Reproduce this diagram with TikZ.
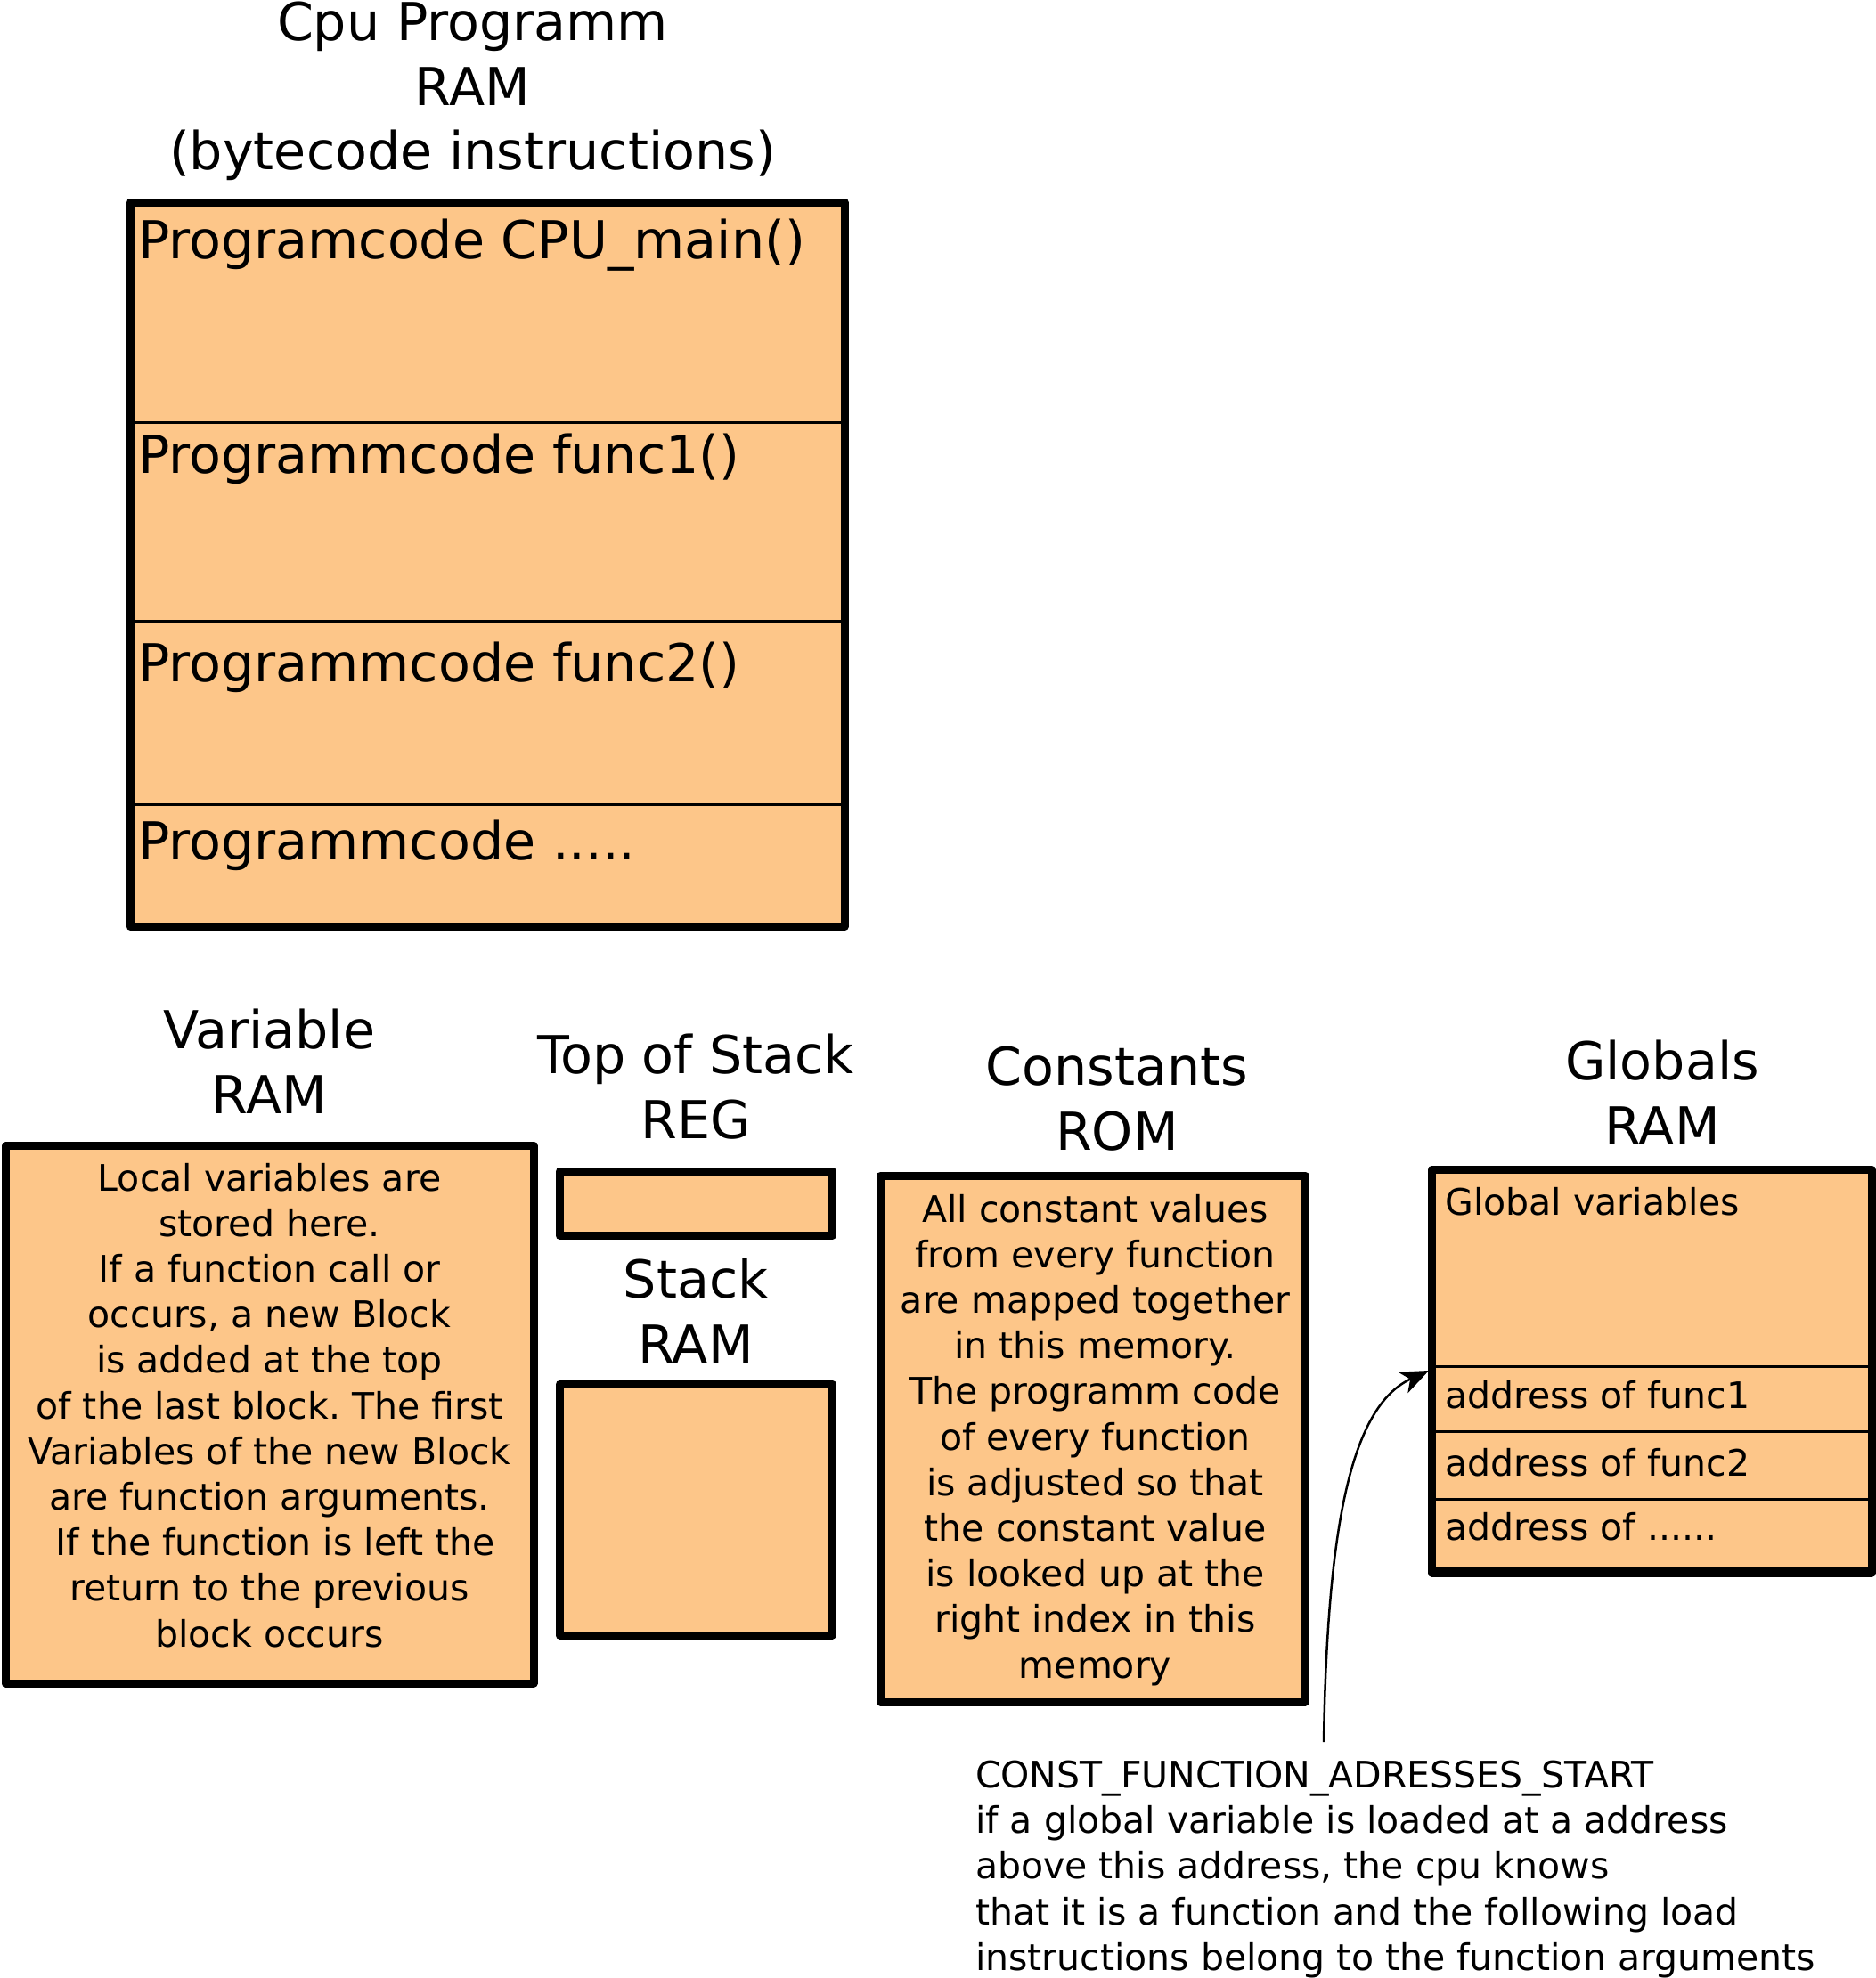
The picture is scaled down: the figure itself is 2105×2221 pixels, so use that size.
\documentclass[tikz,border=0pt]{standalone}
\usepackage{fontspec}
\setmainfont{DejaVu Sans}
\usetikzlibrary{arrows.meta}
\definecolor{boxfill}{HTML}{FDC689}
\frenchspacing
\tikzset{
  membox/.style={draw=black, fill=boxfill, line width=9pt, line join=round},
  divider/.style={draw=black, line width=3pt},
  bigtxt/.style={font=\fontsize{58.7}{72.5}\selectfont, inner sep=0pt, outer sep=0pt},
  smalltxt/.style={font=\fontsize{41}{51.2}\selectfont, inner sep=0pt, outer sep=0pt},
  pointer/.style={draw=black, line width=2.5pt, -{Stealth[length=32pt, width=26pt, inset=9pt]}},
}
\begin{document}
\begin{tikzpicture}[x=1pt,y=-1pt]
\useasboundingbox (0,0) rectangle (2105,2221);

% ---------- Cpu Programm RAM ----------
\node[bigtxt, align=center, anchor=north] (title) at (530.5,2) {Cpu Programm\\RAM\\(bytecode instructions)};
\path[membox] (146,227) rectangle (948,1040.5);
\draw[divider] (146,474) -- (948,474);
\draw[divider] (146,697.5) -- (948,697.5);
\draw[divider] (146,903) -- (948,903);
\node[bigtxt, anchor=base west] (pmain) at (155,290) {Programcode CPU\_main()};
\node[bigtxt, anchor=base west] (pf1) at (155,531) {Programmcode func1()};
\node[bigtxt, anchor=base west] (pf2) at (155,765) {Programmcode func2()};
\node[bigtxt, anchor=base west] (pdots) at (155,965) {Programmcode .....};

% ---------- Variable RAM ----------
\node[bigtxt, align=center, anchor=north] (varlbl) at (302.5,1133) {Variable\\RAM};
\path[membox] (6,1286) rectangle (599,1890);
\node[smalltxt, align=center, anchor=north] (vartxt) at (302.5,1306) {Local variables are\\stored here.\\If a function call or\\occurs, a new Block\\is added at the top\\of the last block. The first\\Variables of the new Block\\are function arguments.\\\hspace*{0.318em}If the function is left the\\return to the previous\\block occurs};

% ---------- Top of Stack REG ----------
\node[bigtxt, align=center, anchor=north] (toslbl) at (781,1161) {Top of Stack\\REG};
\path[membox] (628,1315) rectangle (934,1387.5);

% ---------- Stack RAM ----------
\node[bigtxt, align=center, anchor=north] (stklbl) at (781,1413) {Stack\\RAM};
\path[membox] (628,1554) rectangle (934,1836);

% ---------- Constants ROM ----------
\node[bigtxt, align=center, anchor=north] (constlbl) at (1254,1175) {Constants\\ROM};
\path[membox] (988,1320) rectangle (1465,1911);
\node[smalltxt, align=center, anchor=north] (consttxt) at (1229.5,1341) {All constant values\\from every function\\are mapped together\\in this memory.\\The programm code\\of every function\\is adjusted so that\\the constant value\\is looked up at the\\right index in this\\memory};

% ---------- Globals RAM ----------
\node[bigtxt, align=center, anchor=north] (globlbl) at (1866,1168) {Globals\\RAM};
\path[membox] (1607.5,1313) rectangle (2101,1766);
\draw[divider] (1607.5,1534) -- (2101,1534);
\draw[divider] (1607.5,1607) -- (2101,1607);
\draw[divider] (1607.5,1683) -- (2101,1683);
\draw[divider] (1607.5,1760) -- (2101,1760);
\node[smalltxt, anchor=base west] (gvars) at (1622.5,1364) {Global variables};
\node[smalltxt, anchor=base west] (gf1) at (1622.5,1581) {address of func1};
\node[smalltxt, anchor=base west] (gf2) at (1622.5,1657) {address of func2};
\node[smalltxt, anchor=base west] (gdots) at (1622.5,1729) {address of ......};
\coordinate (fstart) at (1604,1539);

% ---------- annotation ----------
\node[smalltxt, align=left, anchor=north west] (note) at (1095,1977) {CONST\_FUNCTION\_ADRESSES\_START\\if a global variable is loaded at a address\\above this address, the cpu knows\\that it is a function and the following load\\instructions belong to the function arguments};
\coordinate (notetop) at (1486,1956);
\draw[pointer] (notetop) .. controls (1490,1720) and (1515,1580) .. (fstart);
\end{tikzpicture}
\end{document}
